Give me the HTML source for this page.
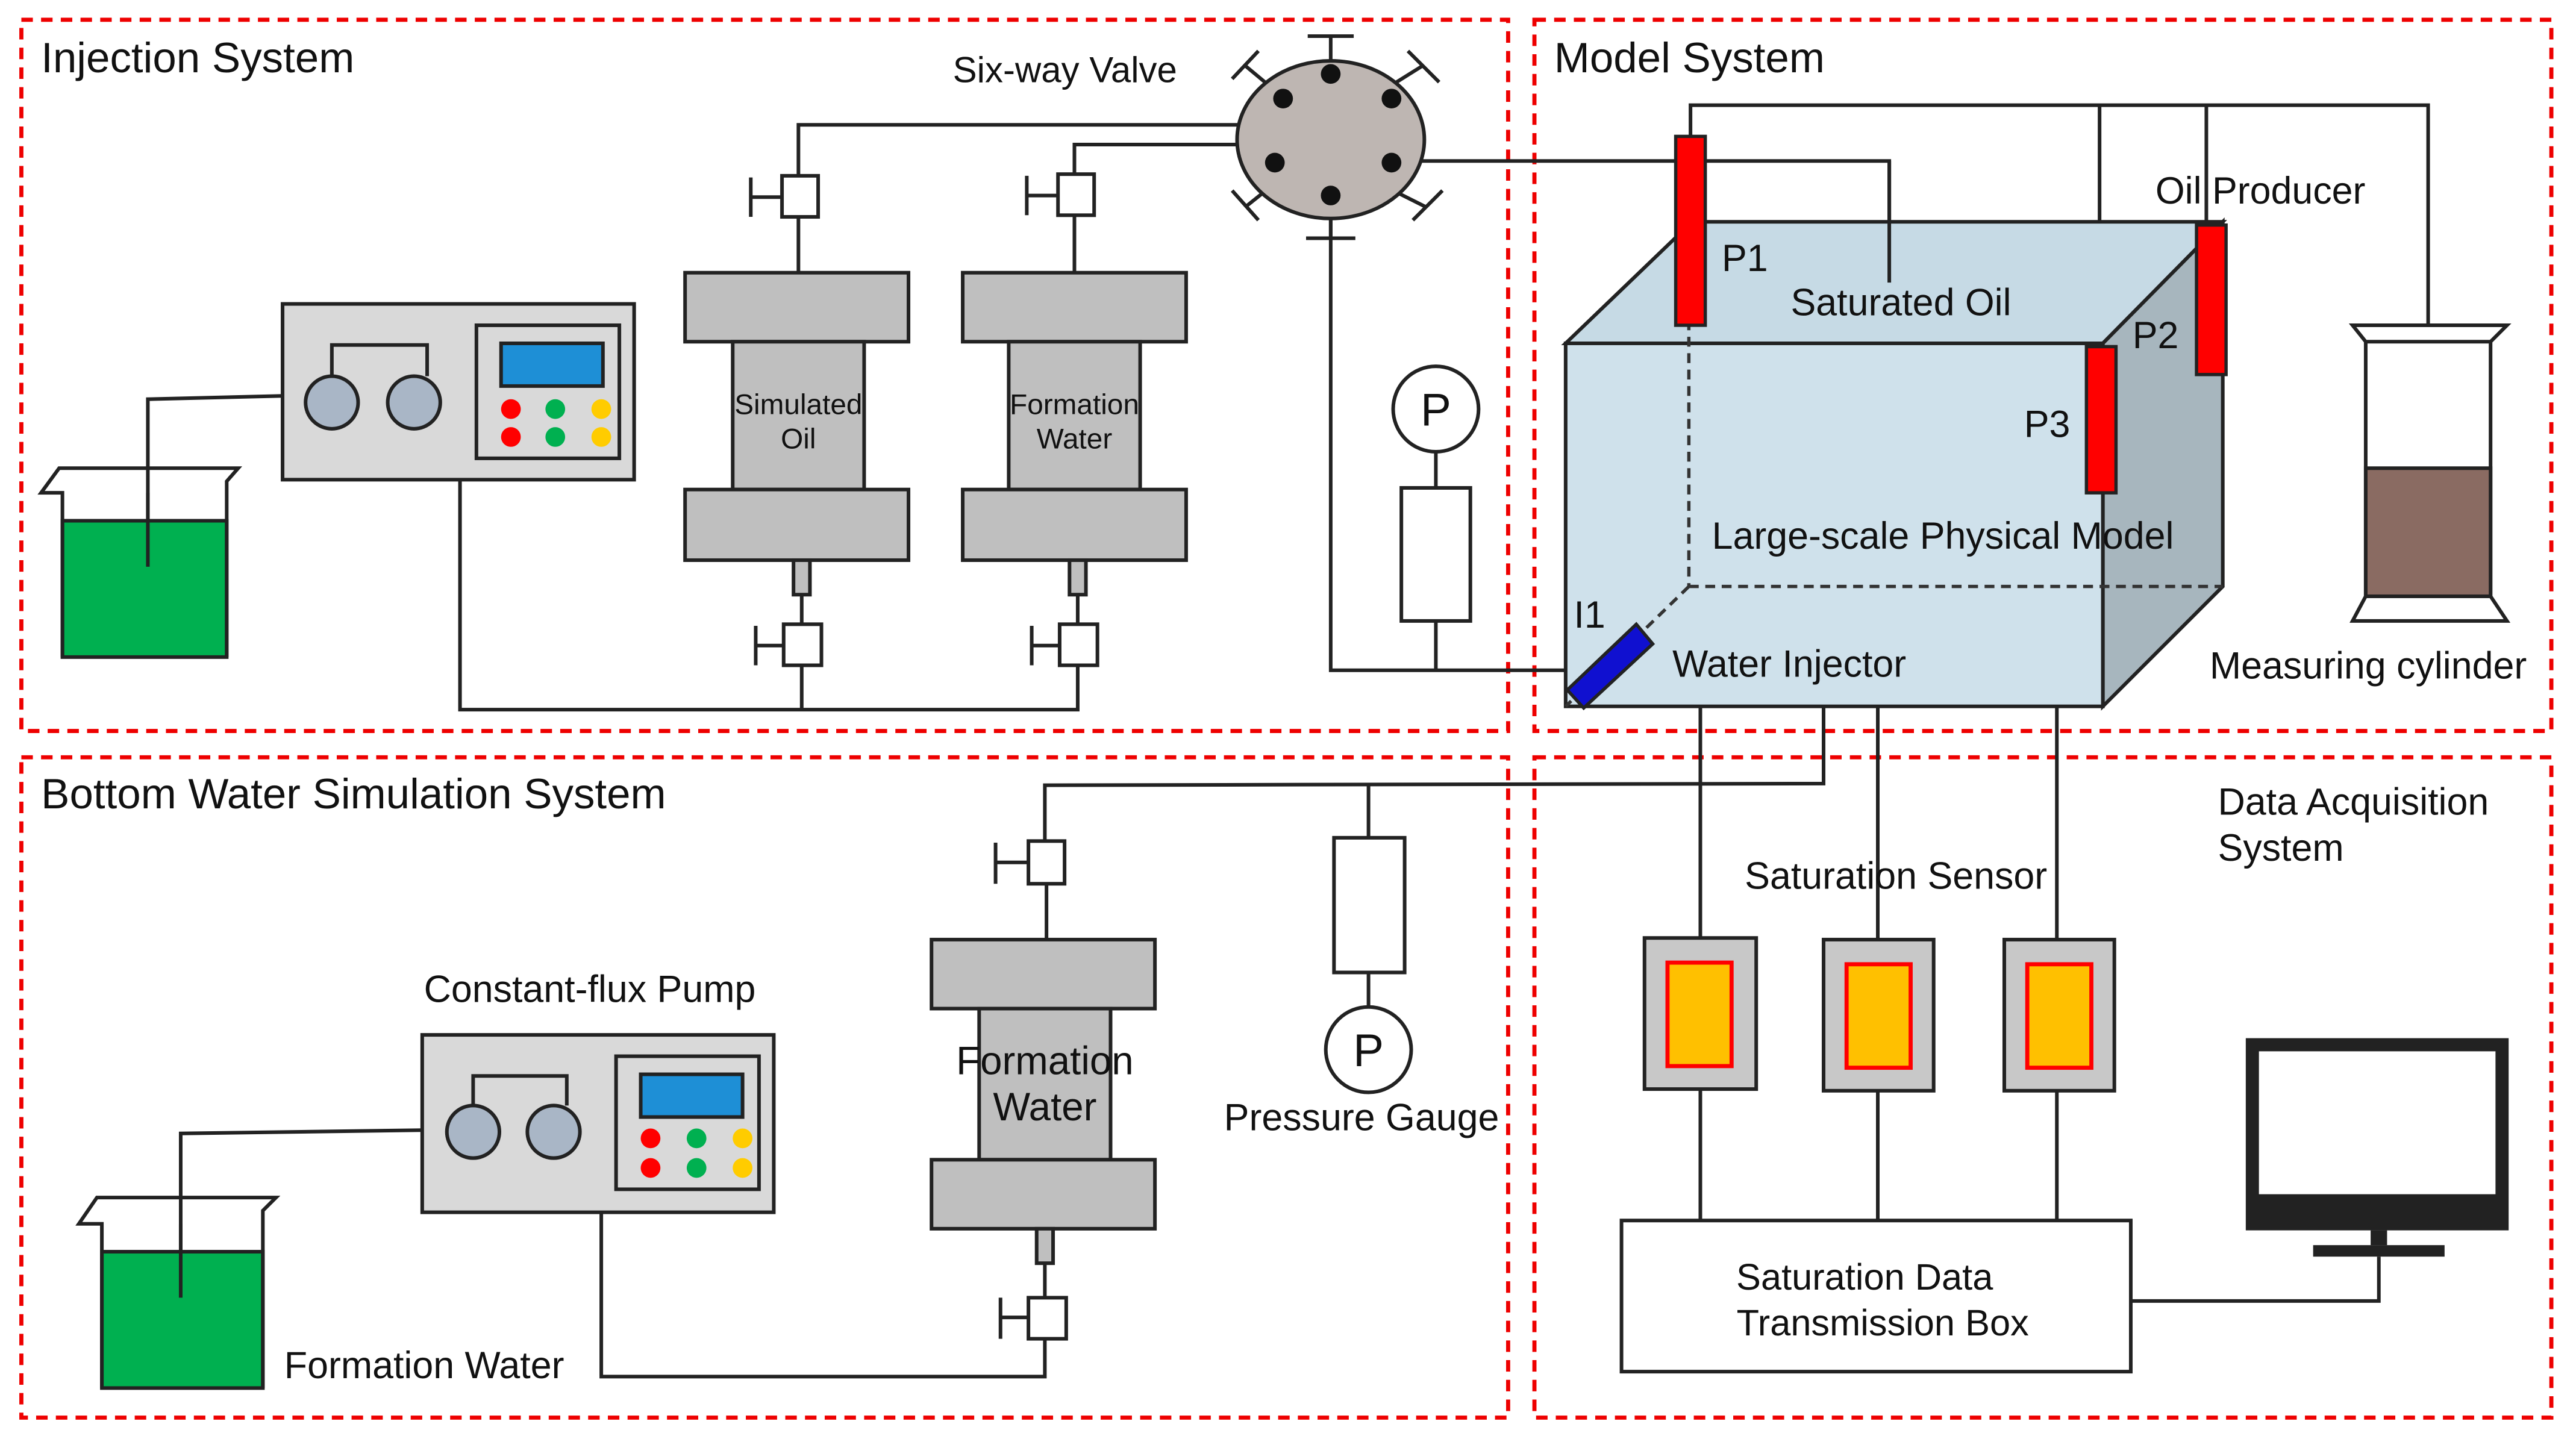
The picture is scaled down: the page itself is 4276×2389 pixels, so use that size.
<!DOCTYPE html>
<html><head><meta charset="utf-8"><style>
html,body{margin:0;padding:0;background:#fff}
svg{display:block}
text{font-family:"Liberation Sans",Arial,sans-serif;fill:#111}
</style></head><body>
<svg width="4276" height="2389" viewBox="0 0 1568 876" xmlns="http://www.w3.org/2000/svg">
<g fill="none" stroke="#e00" stroke-width="2.5" stroke-dasharray="7,5">
<rect x="13" y="12" width="905" height="433"/>
<rect x="934" y="12" width="619" height="433"/>
<rect x="13" y="461" width="905" height="402"/>
<rect x="934" y="461" width="619" height="402"/>
</g>
<g font-size="26">
<text x="25" y="44">Injection System</text>
<text x="946" y="44">Model System</text>
<text x="25" y="492">Bottom Water Simulation System</text>
</g>
<g font-size="23">
<text x="1350" y="496">Data Acquisition</text>
<text x="1350" y="524">System</text>
</g>

<g stroke="#222" stroke-width="2.2" fill="none">
<polyline points="90,345 90,243 172,241"/>
<polyline points="280,292 280,432 656,432 656,405"/>
<line x1="488" y1="432" x2="488" y2="405"/>
<polyline points="486,107 486,76 755,76"/>
<polyline points="654,106 654,88 755,88"/>
<polyline points="850,98 1150,98 1150,172"/>
<polyline points="810,130 810,408 955,408"/>
<line x1="874" y1="275" x2="874" y2="297"/>
<line x1="874" y1="378" x2="874" y2="408"/>
<polyline points="1029,83 1029,64 1478,64 1478,198"/>
<line x1="1343" y1="64" x2="1343" y2="137"/>
<line x1="1278" y1="64" x2="1278" y2="211"/>
<line x1="486" y1="132" x2="486" y2="166"/>
<line x1="654" y1="131" x2="654" y2="166"/>
<line x1="488" y1="362" x2="488" y2="380"/>
<line x1="656" y1="362" x2="656" y2="380"/>
<line x1="1035" y1="430" x2="1035" y2="572"/>
<line x1="1143" y1="430" x2="1143" y2="572"/>
<line x1="1252" y1="430" x2="1252" y2="572"/>
<polyline points="1110,430 1110,477 636,478 636,512"/>
<line x1="833" y1="478" x2="833" y2="510"/>
<line x1="833" y1="592" x2="833" y2="613"/>
<line x1="1035" y1="663" x2="1035" y2="743"/>
<line x1="1143" y1="663" x2="1143" y2="743"/>
<line x1="1252" y1="663" x2="1252" y2="743"/>
<polyline points="1297,792 1448,792 1448,765"/>
<polyline points="110,790 110,690 257,688"/>
<polyline points="366,738 366,838 636,838 636,815"/>
<line x1="637" y1="538" x2="637" y2="572"/>
<line x1="636" y1="769" x2="636" y2="790"/>
</g>

<g stroke="#222" stroke-width="2.2">
<rect x="38" y="317" width="100" height="83" fill="#00b050"/>
<path d="M38,400 L38,300 L25,300 L36,285 L145,285 L138,293 L138,400" fill="none"/>
<rect x="62" y="762" width="98" height="83" fill="#00b050"/>
<path d="M62,845 L62,745 L48,745 L59,729 L168,729 L160,737 L160,845" fill="none"/>
</g>
<g stroke="#222" stroke-width="2.2" fill="none"><line x1="90" y1="345" x2="90" y2="300"/><line x1="110" y1="790" x2="110" y2="745"/></g>

<g stroke="#222" stroke-width="2.2">
<rect x="172" y="185" width="214" height="107" fill="#d9d9d9"/>
<polyline points="202,229 202,210 260,210 260,229" fill="none"/>
<circle cx="202" cy="245" r="16" fill="#a9b6c6"/>
<circle cx="252" cy="245" r="16" fill="#a9b6c6"/>
<rect x="290" y="198" width="87" height="81" fill="#d9d9d9"/>
<rect x="305" y="209" width="62" height="26" fill="#1e8fd6"/>
</g>
<g stroke="none">
<circle cx="311" cy="249" r="6" fill="#f00"/><circle cx="311" cy="266" r="6" fill="#f00"/>
<circle cx="338" cy="249" r="6" fill="#00b050"/><circle cx="338" cy="266" r="6" fill="#00b050"/>
<circle cx="366" cy="249" r="6" fill="#fc0"/><circle cx="366" cy="266" r="6" fill="#fc0"/>
</g>
<g stroke="#222" stroke-width="2.2">
<rect x="257" y="630" width="214" height="108" fill="#d9d9d9"/>
<polyline points="288,673 288,655 345,655 345,673" fill="none"/>
<circle cx="288" cy="689" r="16" fill="#a9b6c6"/>
<circle cx="337" cy="689" r="16" fill="#a9b6c6"/>
<rect x="375" y="643" width="87" height="81" fill="#d9d9d9"/>
<rect x="390" y="654" width="62" height="26" fill="#1e8fd6"/>
</g>
<g stroke="none">
<circle cx="396" cy="693" r="6" fill="#f00"/><circle cx="396" cy="711" r="6" fill="#f00"/>
<circle cx="424" cy="693" r="6" fill="#00b050"/><circle cx="424" cy="711" r="6" fill="#00b050"/>
<circle cx="452" cy="693" r="6" fill="#fc0"/><circle cx="452" cy="711" r="6" fill="#fc0"/>
</g>

<g stroke="#222" stroke-width="2.2" fill="#bfbfbf">
<rect x="417" y="166" width="136" height="42"/><rect x="446" y="208" width="80" height="90"/><rect x="417" y="298" width="136" height="43"/>
<rect x="483" y="341" width="10" height="21"/>
<rect x="586" y="166" width="136" height="42"/><rect x="614" y="208" width="80" height="90"/><rect x="586" y="298" width="136" height="43"/>
<rect x="651" y="341" width="10" height="21"/>
<rect x="567" y="572" width="136" height="42"/><rect x="596" y="614" width="80" height="92"/><rect x="567" y="706" width="136" height="42"/>
<rect x="631" y="748" width="10" height="21"/>
</g>
<g stroke="#222" stroke-width="2.2" fill="#fff">
<rect x="476" y="107" width="22" height="25"/><path d="M476,120 H457 M457,108 V132" fill="none"/>
<rect x="644" y="106" width="22" height="25"/><path d="M644,119 H625 M625,107 V131" fill="none"/>
<rect x="477" y="380" width="23" height="25"/><path d="M477,393 H460 M460,381 V405" fill="none"/>
<rect x="645" y="380" width="23" height="25"/><path d="M645,393 H628 M628,381 V405" fill="none"/>
<rect x="626" y="512" width="22" height="26"/><path d="M626,525 H606 M606,513 V538" fill="none"/>
<rect x="626" y="790" width="23" height="25"/><path d="M626,802 H609 M609,790 V815" fill="none"/>
</g>
<g font-size="17.5" text-anchor="middle">
<text x="486" y="252">Simulated</text><text x="486" y="273">Oil</text>
<text x="654" y="252">Formation</text><text x="654" y="273">Water</text>
</g>
<g font-size="24" text-anchor="middle"><text x="636" y="654">Formation</text><text x="636" y="682">Water</text></g>

<g stroke="#222" stroke-width="2.2" fill="none">
<line x1="810" y1="37" x2="810" y2="22"/><line x1="796" y1="22" x2="824" y2="22"/>
<line x1="810" y1="133" x2="810" y2="145"/><line x1="795" y1="145" x2="825" y2="145"/>
<line x1="770" y1="50" x2="758" y2="40"/><line x1="750" y1="48" x2="766" y2="31"/>
<line x1="850" y1="50" x2="866" y2="40"/><line x1="857" y1="31" x2="876" y2="50"/>
<line x1="768" y1="118" x2="758" y2="126"/><line x1="750" y1="116" x2="766" y2="134"/>
<line x1="852" y1="118" x2="868" y2="126"/><line x1="860" y1="134" x2="878" y2="116"/>
</g>
<ellipse cx="810" cy="85" rx="57" ry="48" fill="#beb6b2" stroke="#222" stroke-width="2.2"/>
<g fill="#111">
<circle cx="810" cy="45" r="6"/><circle cx="781" cy="60" r="6"/><circle cx="847" cy="60" r="6"/>
<circle cx="776" cy="99" r="6"/><circle cx="847" cy="99" r="6"/><circle cx="810" cy="119" r="6"/>
</g>
<text x="580" y="50" font-size="22">Six-way Valve</text>

<g stroke="#222" stroke-width="2.2" fill="#fff">
<circle cx="874" cy="249" r="26"/><rect x="853" y="297" width="42" height="81"/>
<rect x="812" y="510" width="43" height="82"/><circle cx="833" cy="639" r="26"/>
</g>
<g font-size="28" text-anchor="middle"><text x="874" y="259">P</text><text x="833" y="649">P</text></g>
<text x="745" y="688" font-size="23">Pressure Gauge</text>

<g stroke="#222" stroke-width="2.2">
<polygon points="953,209 1030,135 1353,135 1280,209" fill="#c6dae5"/>
<polygon points="1280,209 1353,135 1353,357 1280,430" fill="#a7b6be"/>
<rect x="953" y="209" width="327" height="221" fill="#cfe1eb"/>
</g>
<g stroke="#333" stroke-width="2" stroke-dasharray="6,4" fill="none">
<line x1="1028" y1="135" x2="1028" y2="357"/><line x1="1028" y1="357" x2="1353" y2="357"/><line x1="1028" y1="357" x2="953" y2="430"/>
</g>
<g stroke="#222" stroke-width="2">
<rect x="1020" y="83" width="18" height="115" fill="#f00"/>
<rect x="1337" y="137" width="18" height="91" fill="#f00"/>
<rect x="1270" y="211" width="18" height="89" fill="#f00"/>
<polygon points="954,420 996,380 1006,392 964,431" fill="#1010d0"/>
</g>
<line x1="1150" y1="98" x2="1150" y2="172" stroke="#222" stroke-width="2.2"/>
<g font-size="23">
<text x="1048" y="165">P1</text><text x="1090" y="192">Saturated Oil</text>
<text x="1312" y="124">Oil Producer</text><text x="1298" y="212">P2</text>
<text x="1232" y="266">P3</text><text x="1042" y="334">Large-scale Physical Model</text>
<text x="958" y="382">I1</text><text x="1018" y="412">Water Injector</text>
<text x="1345" y="413">Measuring cylinder</text>
<text x="1062" y="541">Saturation Sensor</text>
<text x="258" y="610">Constant-flux Pump</text>
<text x="173" y="839">Formation Water</text>
</g>
<g stroke="#222" stroke-width="2.2">
<rect x="1440" y="207" width="76" height="156" fill="#fff"/>
<rect x="1440" y="285" width="76" height="78" fill="#8a6b62"/>
<polygon points="1432,198 1526,198 1516,208 1440,208" fill="#fff"/>
<polygon points="1440,363 1516,363 1526,378 1432,378" fill="#fff"/>
</g>
<g stroke="#222" stroke-width="2.2" fill="#c8c8c8">
<rect x="1001" y="571" width="68" height="92"/><rect x="1110" y="572" width="67" height="92"/><rect x="1220" y="572" width="67" height="92"/>
</g>
<g stroke="#f00" stroke-width="2.5" fill="#ffc000">
<rect x="1015" y="586" width="39" height="63"/><rect x="1124" y="587" width="39" height="63"/><rect x="1234" y="587" width="39" height="63"/>
</g>
<rect x="987" y="743" width="310" height="92" fill="#fff" stroke="#222" stroke-width="2.2"/>
<g font-size="22.5" text-anchor="middle"><text x="1135" y="785">Saturation Data</text><text x="1146" y="813">Transmission Box</text></g>
<rect x="1367" y="632" width="160" height="117" fill="#222"/>
<rect x="1375" y="640" width="144" height="87" fill="#fff"/>
<rect x="1443" y="749" width="10" height="9" fill="#222"/>
<rect x="1408" y="758" width="80" height="7" fill="#222"/>
</svg>
</body></html>
